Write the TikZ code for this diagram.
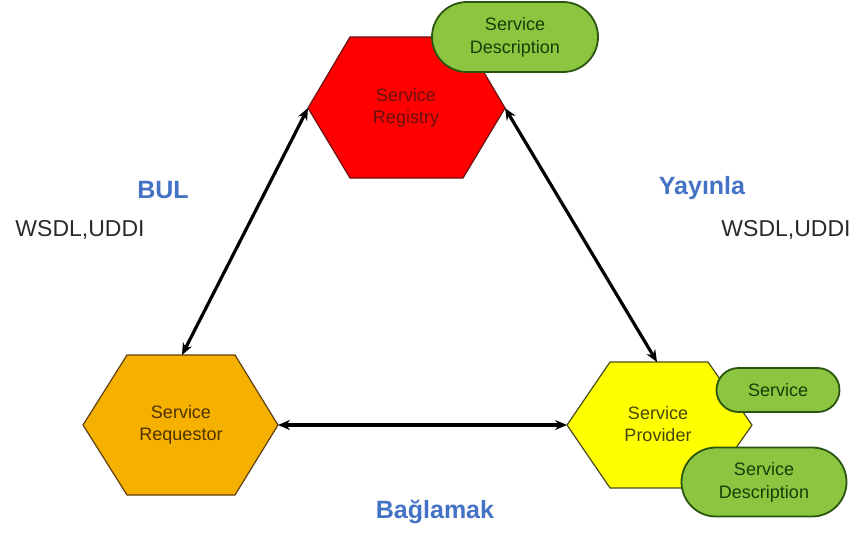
\documentclass[tikz,border=0pt]{standalone}
\usepackage{fontspec}
\setmainfont{Liberation Sans}
\usetikzlibrary{arrows.meta}
\definecolor{regred}{HTML}{FF0000}
\definecolor{regedge}{HTML}{6A1010}
\definecolor{regtext}{HTML}{6A1010}
\definecolor{reqorange}{HTML}{F5B000}
\definecolor{reqedge}{HTML}{5E4010}
\definecolor{reqtext}{HTML}{4E3200}
\definecolor{provyellow}{HTML}{FFFF00}
\definecolor{provedge}{HTML}{4A4A20}
\definecolor{provtext}{HTML}{454508}
\definecolor{pillgreen}{HTML}{8CC640}
\definecolor{pilledge}{HTML}{2A5410}
\definecolor{pilltext}{HTML}{173D08}
\definecolor{labelblue}{HTML}{4472C4}
\definecolor{labelgray}{HTML}{2A2A2A}
\tikzset{
  hexedge/.style={line width=1.2pt, line join=miter},
  hextext/.style={align=center, font=\fontsize{18}{22}\selectfont},
  pill/.style={draw=pilledge, fill=pillgreen, line width=1.8pt, align=center,
    text=pilltext, font=\fontsize{18}{23}\selectfont, inner sep=0pt},
  link/.style={line width=3.2pt, {Stealth[length=12pt,width=10pt]}-{Stealth[length=12pt,width=10pt]}},
  verb/.style={text=labelblue, font=\fontsize{25}{28}\selectfont\bfseries},
  proto/.style={text=labelgray, font=\fontsize{23}{27}\selectfont}
}
\begin{document}
\begin{tikzpicture}[x=1pt, y=-1pt]
\useasboundingbox (0,0) rectangle (859,533);

% Service Registry hexagon
\coordinate (regL) at (308,108);
\coordinate (regR) at (505,108);
\filldraw[hexedge, fill=regred, draw=regedge]
  (regL) -- (350,37) -- (463,37) -- (regR) -- (463,178) -- (350,178) -- cycle;
\node[hextext, text=regtext] (reg) at (406,108) {Service\\Registry};

% Service Requestor hexagon
\coordinate (reqT) at (182,355);
\coordinate (reqR) at (278,425);
\filldraw[hexedge, fill=reqorange, draw=reqedge]
  (83,425) -- (127,355) -- (235,355) -- (reqR) -- (235,495) -- (127,495) -- cycle;
\node[hextext, text=reqtext] (req) at (181,425) {Service\\Requestor};

% Service Provider hexagon
\coordinate (provL) at (567,425);
\coordinate (provT) at (657,362);
\filldraw[hexedge, fill=provyellow, draw=provedge]
  (provL) -- (610,362) -- (708,362) -- (752,425) -- (708,488) -- (610,488) -- cycle;
\node[hextext, text=provtext] (prov) at (658,424) {Service\\Provider};

% Description and service pills
\node[pill, minimum width=166pt, minimum height=70pt, rounded corners=35pt] (regdesc) at (515,37) {Service\\Description};
\node[pill, minimum width=123pt, minimum height=44pt, rounded corners=22pt] (svc) at (778,390) {Service};
\node[pill, minimum width=165pt, minimum height=69pt, rounded corners=34.5pt] (provdesc) at (764,482) {Service\\Description};

% Connectors
\draw[link] (reqT) -- (regL);
\draw[link] (regR) -- (provT);
\draw[link] (reqR) -- (provL);

% Labels
\node[verb] (bul) at (163,190) {BUL};
\node[verb] (yay) at (702,188) {Yayınla};
\node[verb] (bag) at (435,512) {Bağlamak};
\node[proto] (wl) at (80,230) {WSDL,UDDI};
\node[proto] (wr) at (786,230) {WSDL,UDDI};
\end{tikzpicture}
\end{document}
